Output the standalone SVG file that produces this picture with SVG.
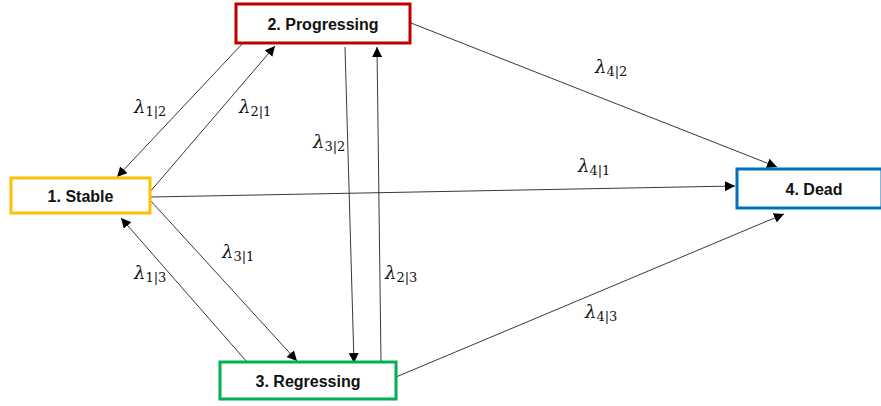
<svg xmlns="http://www.w3.org/2000/svg" width="881" height="406" viewBox="0 0 881 406">
<defs>
<marker id="arr" viewBox="0 0 10 10" refX="10" refY="5" markerWidth="10" markerHeight="10" markerUnits="userSpaceOnUse" orient="auto">
<path d="M0,0 L10,5 L0,10 Z" fill="#000"/>
</marker>
<style>
.node rect{fill:#fff;stroke-width:3}
.node text{font-family:"Liberation Sans",Arial,sans-serif;font-weight:bold;font-size:16px;fill:#111;text-anchor:middle}
.conn line{stroke:#222;stroke-width:0.9;fill:none;marker-end:url(#arr)}
.lab{font-family:"DejaVu Serif","Liberation Serif",serif;font-style:italic;font-size:18px;fill:#111}
.sub{font-style:normal;font-size:13px}
</style>
</defs>
<rect width="881" height="406" fill="#fff"/>
<g id="connectors" class="conn">
<line x1="243" y1="43" x2="117" y2="177"/>
<line x1="149" y1="193" x2="275" y2="46"/>
<line x1="345" y1="47" x2="354" y2="363"/>
<line x1="381" y1="362" x2="377" y2="47"/>
<line x1="150" y1="197" x2="735" y2="186"/>
<line x1="411" y1="23" x2="777" y2="167"/>
<line x1="396" y1="377" x2="784" y2="214"/>
<line x1="150" y1="200" x2="297" y2="361"/>
<line x1="247" y1="362" x2="121" y2="218"/>
</g>
<g id="labels">
<text class="lab" x="134" y="113">λ<tspan class="sub" dy="3">1|2</tspan></text>
<text class="lab" x="239" y="113">λ<tspan class="sub" dy="3">2|1</tspan></text>
<text class="lab" x="313" y="148">λ<tspan class="sub" dy="3">3|2</tspan></text>
<text class="lab" x="595" y="73">λ<tspan class="sub" dy="3">4|2</tspan></text>
<text class="lab" x="578" y="172">λ<tspan class="sub" dy="3">4|1</tspan></text>
<text class="lab" x="222" y="258">λ<tspan class="sub" dy="3">3|1</tspan></text>
<text class="lab" x="134" y="279">λ<tspan class="sub" dy="3">1|3</tspan></text>
<text class="lab" x="385" y="279">λ<tspan class="sub" dy="3">2|3</tspan></text>
<text class="lab" x="585" y="318">λ<tspan class="sub" dy="3">4|3</tspan></text>
</g>
<g id="node1" class="node">
<rect x="11" y="178" width="139" height="35" stroke="#FFC000"/>
<text x="80.5" y="201.5">1. Stable</text>
</g>
<g id="node2" class="node">
<rect x="236" y="4" width="174" height="39" stroke="#C00000"/>
<text x="323" y="29.5">2. Progressing</text>
</g>
<g id="node3" class="node">
<rect x="220" y="362" width="176" height="37" stroke="#00B050"/>
<text x="308" y="386.5">3. Regressing</text>
</g>
<g id="node4" class="node">
<rect x="737" y="169" width="145" height="39" stroke="#0070C0"/>
<text x="814" y="194.5">4. Dead</text>
</g>
</svg>
